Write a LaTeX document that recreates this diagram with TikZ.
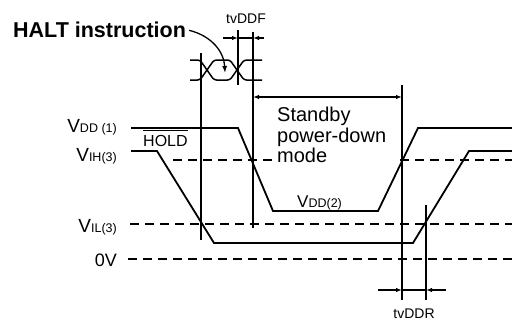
\documentclass[tikz,border=0pt]{standalone}
\usepackage{fontspec}
\setmainfont{Liberation Sans}
\usetikzlibrary{arrows.meta}
\newcommand{\vsym}[3]{{\fontsize{#1}{#1}\selectfont V}{\fontsize{12.5pt}{12.5pt}\selectfont #2#3}}
\begin{document}
\begin{tikzpicture}[x=1pt,y=-1pt,
  sig/.style={line width=1.8pt, line join=miter},
  bus/.style={line width=1.5pt, rounded corners=2.5pt},
  guide/.style={line width=1.3pt},
  lvl/.style={line width=1.4pt, dash pattern=on 9pt off 6pt},
  tipr/.style={line width=1.2pt, -{Latex[length=6pt,width=4.5pt]}},
  both/.style={line width=1.2pt, {Latex[length=6pt,width=4.5pt]}-{Latex[length=6pt,width=4.5pt]}},
  lab/.style={inner sep=0pt, anchor=base east},
  txt/.style={inner sep=0pt, anchor=base west},
]
\useasboundingbox (0,0) rectangle (512,322);

% ---- VDD waveform
\coordinate (v0) at (131,128);
\coordinate (v1) at (238,128);
\coordinate (v2) at (273,211);
\coordinate (v3) at (378,211);
\coordinate (v4) at (418,128);
\coordinate (v5) at (512,128);
\draw[sig] (v0) -- (v1) -- (v2) -- (v3) -- (v4) -- (v5);

% ---- HOLD waveform
\coordinate (h0) at (131,151);
\coordinate (h1) at (157,151);
\coordinate (h2) at (214,243);
\coordinate (h3) at (413,243);
\coordinate (h4) at (469,151);
\coordinate (h5) at (512,151);
\draw[sig] (h0) -- (h1) -- (h2) -- (h3) -- (h4) -- (h5);

% ---- level lines
\coordinate (ih0) at (173,160); \coordinate (ih1) at (276,160);
\coordinate (ih2) at (400,160); \coordinate (ih3) at (512,160);
\coordinate (il0) at (130,224); \coordinate (il1) at (512,224);
\coordinate (z0) at (128,259);  \coordinate (z1) at (512,259);
\draw[lvl] (ih0) -- (ih1);
\draw[lvl] (ih2) -- (ih3);
\draw[lvl] (il0) -- (il1);
\draw[lvl] (z0) -- (z1);

% ---- vertical guides
\coordinate (a1) at (201,53);  \coordinate (a2) at (201,240);
\coordinate (b1) at (238,30);  \coordinate (b2) at (238,85);
\coordinate (c1) at (253,32);  \coordinate (c2) at (253,228);
\coordinate (d1) at (402,85);  \coordinate (d2) at (402,300);
\coordinate (e1) at (426,205); \coordinate (e2) at (426,300);
\draw[guide] (a1) -- (a2);
\draw[guide] (b1) -- (b2);
\draw[guide] (c1) -- (c2);
\draw[guide] (d1) -- (d2);
\draw[guide] (e1) -- (e2);

% ---- bus (instruction)
\draw[bus] (190,60) -- (200,60) -- (214,80) -- (230,80) -- (244,60) -- (262,60);
\draw[bus] (190,80) -- (200,80) -- (214,60) -- (230,60) -- (244,80) -- (262,80);

% ---- tvDDF
\coordinate (f0) at (223,38); \coordinate (f1) at (238,38);
\coordinate (f2) at (253,38); \coordinate (f3) at (264,38);
\draw[guide] (f1) -- (f2);
\draw[tipr] (f0) -- (f1);
\draw[tipr] (f3) -- (f2);
\node[inner sep=0pt, anchor=base] (tvddf) at (246,23) {\fontsize{14pt}{14pt}\selectfont tvDDF};

% ---- standby arrow
\coordinate (s0) at (253,97); \coordinate (s1) at (402,97);
\draw[both] (s0) -- (s1);

% ---- tvDDR
\coordinate (r0) at (378,290); \coordinate (r1) at (402,290);
\coordinate (r2) at (426,290); \coordinate (r3) at (446,290);
\draw[guide] (r1) -- (r2);
\draw[tipr] (r0) -- (r1);
\draw[tipr] (r3) -- (r2);
\node[inner sep=0pt, anchor=base] (tvddr) at (414,318) {\fontsize{14pt}{14pt}\selectfont tvDDR};

% ---- HALT instruction
\node[txt] (halt) at (13,37) {\fontsize{21.5pt}{21.5pt}\selectfont\bfseries HALT instruction};
\coordinate (hp) at (225,73);
\draw[line width=1.3pt, -{Latex[length=7pt,width=5pt]}] ([xshift=3pt,yshift=-1pt]halt.east) .. controls (212,36) and (224,52) .. (hp);

% ---- labels
\node[lab] (lvdd1) at (117,132) {\vsym{19pt}{DD (1)}{}};
\node[lab] (lvih) at (117,161) {\vsym{19pt}{IH(3)}{}};
\node[lab] (lvil) at (117,232) {\vsym{19pt}{IL(3)}{}};
\node[lab] (l0v) at (117,266) {\fontsize{18pt}{18pt}\selectfont 0V};
\node[txt] (hold) at (143,146) {\fontsize{16pt}{16pt}\selectfont HOLD};
\draw[line width=1.2pt] ([yshift=4pt]hold.north west) -- ([yshift=4pt]hold.north east);
\node[txt] (lvdd2) at (297,207) {\vsym{17pt}{DD(2)}{}};

\node[txt] (sb1) at (277,121) {\fontsize{20pt}{20pt}\selectfont Standby};
\node[txt] (sb2) at (277,142) {\fontsize{20pt}{20pt}\selectfont power-down};
\node[txt] (sb3) at (277,162) {\fontsize{20pt}{20pt}\selectfont mode};
\end{tikzpicture}
\end{document}
